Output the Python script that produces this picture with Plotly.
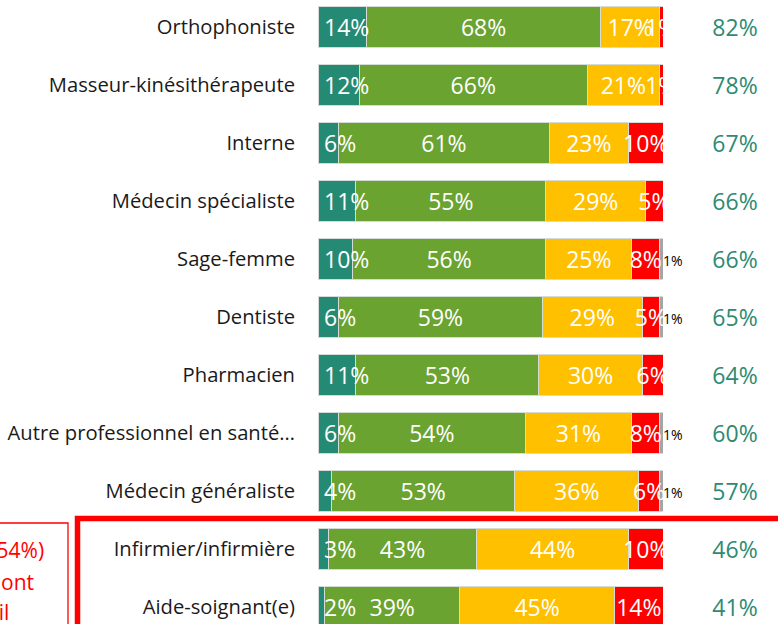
import plotly.graph_objects as go

categories = [
    "Orthophoniste", "Masseur-kinésithérapeute", "Interne", "Médecin spécialiste",
    "Sage-femme", "Dentiste", "Pharmacien", "Autre professionnel en santé…",
    "Médecin généraliste", "Infirmier/infirmière", "Aide-soignant(e)",
]
tout_a_fait = [14, 12, 6, 11, 10, 6, 11, 6, 4, 3, 2]
plutot_oui = [68, 66, 61, 55, 56, 59, 53, 54, 53, 43, 39]
plutot_non = [17, 21, 23, 29, 25, 29, 30, 31, 36, 44, 45]
pas_du_tout = [1, 1, 10, 5, 8, 5, 6, 8, 6, 10, 14]
nsp = [0, 0, 0, 0, 1, 1, 0, 1, 1, 0, 0]
totaux = [82, 78, 67, 66, 66, 65, 64, 60, 57, 46, 41]

series = [
    ("Tout à fait", tout_a_fait, "#248a73"),
    ("Plutôt oui", plutot_oui, "#6aa32f"),
    ("Plutôt non", plutot_non, "#ffc000"),
    ("Pas du tout", pas_du_tout, "#ff0000"),
    ("NSP", nsp, "#a5a5a5"),
]

W, H = 778, 624
FONT = "'Open Sans', Lato, sans-serif"
NB = "\u00a0"

fig = go.Figure()
starts = []
base = [0] * len(categories)
for name, vals, col in series:
    starts.append(list(base))
    fig.add_trace(go.Bar(
        name=name, y=categories, x=vals, orientation="h",
        marker=dict(color=col, line=dict(color="#d5dcd5", width=1)),
        width=0.69, hoverinfo="x+name",
    ))
    base = [b + v for b, v in zip(base, vals)]

# Data labels drawn on top of all bars (on an overlaid y axis, nudged down slightly)
fig.add_trace(go.Scatter(
    x=starts[0], y=categories, yaxis="y2", mode="text",
    text=[f"{NB}{v}%" for v in tout_a_fait], textposition="middle right",
    textfont=dict(color="white", size=23, family=FONT),
    hoverinfo="skip", cliponaxis=True,
))
for i in (1, 2, 3):
    vals = series[i][1]
    fig.add_trace(go.Scatter(
        x=[s + v / 2 for s, v in zip(starts[i], vals)], y=categories, yaxis="y2",
        mode="text", text=[f"{v}%" for v in vals], textposition="middle center",
        textfont=dict(color="white", size=23, family=FONT),
        hoverinfo="skip", cliponaxis=True,
    ))
fig.add_trace(go.Scatter(
    x=[s + v for s, v in zip(starts[4], nsp)], y=categories, yaxis="y2", mode="text",
    text=[f"{v}%" if v else "" for v in nsp], textposition="middle right",
    textfont=dict(color="black", size=14, family=FONT),
    hoverinfo="skip", cliponaxis=False,
))
# Totals column
fig.add_trace(go.Scatter(
    x=[0] * len(categories), y=categories, xaxis="x2", yaxis="y3",
    mode="text", text=[f"{v}%" for v in totaux],
    textfont=dict(color="#2e8a72", size=23, family=FONT),
    hoverinfo="skip", cliponaxis=False,
))

row = 58.0
top_val = -27.0 / row
bot_val = top_val + H / row
nudge = 3.0 / row

x0px, x1px = 318, 663
fig.update_layout(
    width=W, height=H, barmode="stack", showlegend=False,
    margin=dict(l=0, r=0, t=0, b=0),
    paper_bgcolor="white", plot_bgcolor="white",
    font=dict(family=FONT),
    xaxis=dict(domain=[x0px / W, x1px / W], range=[0, 100], visible=False, fixedrange=True),
    xaxis2=dict(domain=[692 / W, 1.0], range=[-1, 1], visible=False, anchor="y3"),
    yaxis=dict(type="category", categoryorder="array", categoryarray=categories,
               range=[bot_val, top_val], showgrid=False, showline=False,
               ticks="", ticklabelstandoff=22,
               tickfont=dict(size=20.2, color="#1a1a1a", family=FONT),
               automargin=False),
    yaxis2=dict(type="category", categoryorder="array", categoryarray=categories,
                range=[bot_val - nudge, top_val - nudge], overlaying="y",
                visible=False, anchor="x"),
    yaxis3=dict(type="category", categoryorder="array", categoryarray=categories,
                range=[bot_val - nudge, top_val - nudge], overlaying="y",
                visible=False, anchor="x2"),
)

def px_x(p):
    return p / W

def px_y(p):
    return 1 - p / H

# Red highlight frame around the last two rows
fig.add_shape(type="rect", xref="paper", yref="paper",
              x0=px_x(77.5), x1=px_x(W + 20), y0=px_y(H + 20), y1=px_y(518.5),
              line=dict(color="#ff0000", width=5.5), layer="above")
# Cut-off comment box on the left
fig.add_shape(type="rect", xref="paper", yref="paper",
              x0=px_x(-200), x1=px_x(68), y0=px_y(H + 20), y1=px_y(523),
              line=dict(color="#ff0000", width=1.3), layer="above")
for txt, xr, yc in [("moyenne (54%)", 46, 550), ("ils ont", 36, 582), ("et il", 11, 612)]:
    fig.add_annotation(xref="paper", yref="paper", x=px_x(xr), y=px_y(yc),
                       xanchor="right", yanchor="middle", showarrow=False,
                       text=txt, font=dict(color="#ff0000", size=21, family=FONT))

fig.write_html("out.html", config={"displayModeBar": False},
               post_script="document.body.style.margin='0px';document.body.style.overflow='hidden';")
